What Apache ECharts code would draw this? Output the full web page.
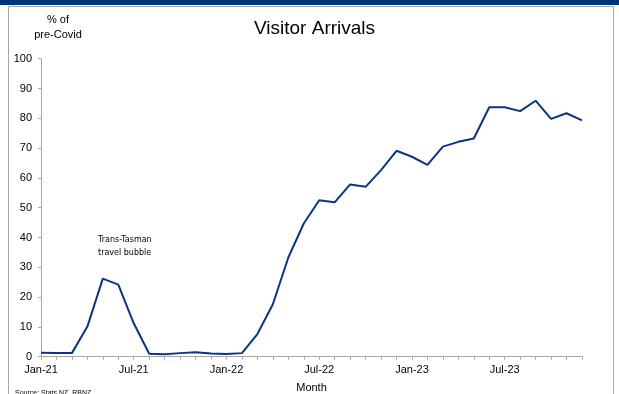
<!DOCTYPE html>
<html>
<head>
<meta charset="utf-8">
<script src="https://cdn.jsdelivr.net/npm/echarts@6/dist/echarts.min.js"></script>
<style>
html,body{margin:0;padding:0;background:#fff;}
#c{width:619px;height:394px;}
</style>
</head>
<body>
<div id="c"></div>
<script>
const months = ["Jan-21","Feb-21","Mar-21","Apr-21","May-21","Jun-21","Jul-21","Aug-21","Sep-21","Oct-21","Nov-21","Dec-21",
"Jan-22","Feb-22","Mar-22","Apr-22","May-22","Jun-22","Jul-22","Aug-22","Sep-22","Oct-22","Nov-22","Dec-22",
"Jan-23","Feb-23","Mar-23","Apr-23","May-23","Jun-23","Jul-23","Aug-23","Sep-23","Oct-23","Nov-23","Dec-23"];
const visitorArrivals = [1.3,1.2,1.2,10.1,26.2,24.2,11.2,1.0,0.8,1.2,1.5,1.1,
0.9,1.2,7.6,17.6,33.3,44.7,52.5,51.8,57.8,57.0,62.6,69.1,
67.1,64.4,70.5,72.1,73.2,83.7,83.7,82.4,85.9,79.8,81.7,79.3];
const yTicks = [0,10,20,30,40,50,60,70,80,90,100];

const chart = echarts.init(document.getElementById('c'), null, {renderer:'canvas'});
chart.setOption({
  animation:false,
  backgroundColor:'#fff',
  title:{
    text:'Visitor Arrivals', left:249, top:14,
    textStyle:{fontFamily:'Liberation Sans', fontSize:19, fontWeight:'normal', color:'#000'}
  },
  graphic:[
    {type:'rect', shape:{x:0,y:0,width:619,height:5}, style:{fill:'#003478'}, silent:true},
    {type:'rect', shape:{x:8.5,y:6.5,width:605,height:400}, style:{fill:'none', stroke:'#a6a6a6', lineWidth:1}, silent:true},
    {type:'text', x:58, y:12, style:{text:'% of\npre-Covid', textAlign:'center', font:'11px "Liberation Sans"', fill:'#000', lineHeight:15}},
    {type:'text', x:98, y:233, style:{text:'Trans-Tasman\ntravel bubble', font:'8px "DejaVu Sans"', fill:'#000', lineHeight:13}},
    {type:'text', x:15, y:390, style:{text:'Source: Stats NZ, RBNZ', font:'7px "Liberation Sans"', fill:'#000'}}
  ],
  grid:{left:41, right:37, top:58.7, bottom:37.3, containLabel:false, outerBoundsMode:'none'},
  xAxis:{
    type:'category', data:months, boundaryGap:false,
    name:'Month', nameLocation:'middle', nameGap:26,
    nameTextStyle:{fontFamily:'Liberation Sans', fontSize:11, color:'#000'},
    axisLine:{lineStyle:{color:'#a6a6a6', width:1}},
    axisTick:{interval:0, length:3, lineStyle:{color:'#a6a6a6'}},
    axisLabel:{interval:5, fontFamily:'Liberation Sans', fontSize:11, color:'#000', margin:8}
  },
  yAxis:{
    type:'value', min:0, max:100, interval:10,
    splitLine:{show:false},
    axisLine:{show:true, lineStyle:{color:'#a6a6a6', width:1}},
    axisTick:{show:true, length:3, lineStyle:{color:'#a6a6a6'}},
    axisLabel:{fontFamily:'Liberation Sans', fontSize:11, color:'#000', margin:9}
  },
  series:[{
    type:'line', data:visitorArrivals, symbol:'none',
    lineStyle:{color:'#0b3580', width:2}
  }]
});
</script>
</body>
</html>
